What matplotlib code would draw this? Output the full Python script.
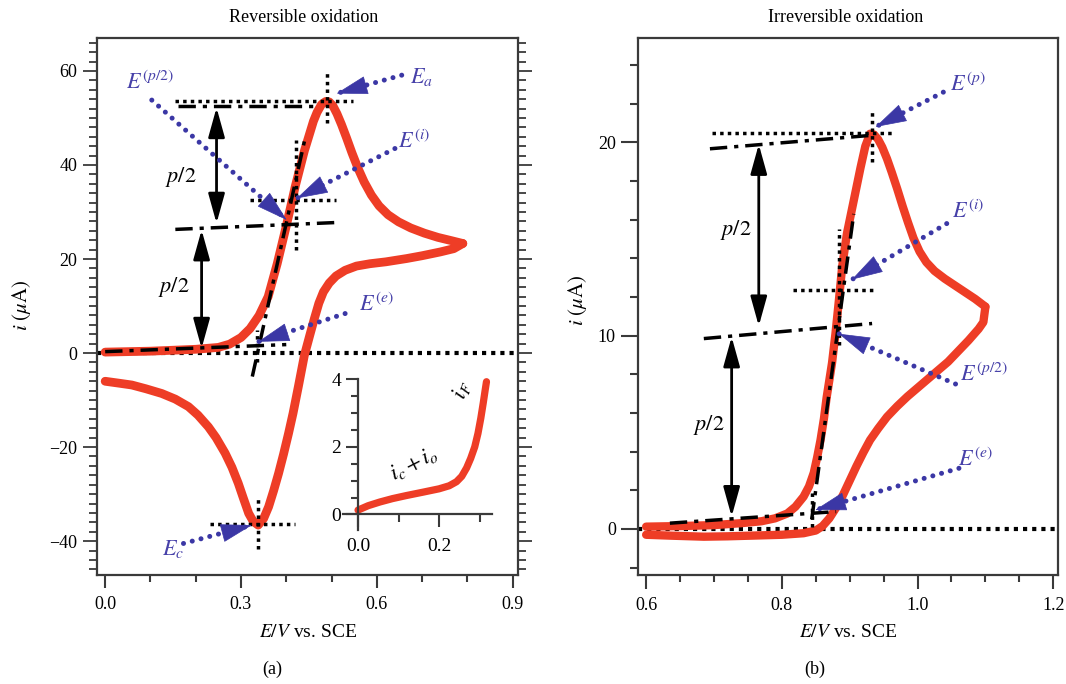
import numpy as np
import matplotlib
matplotlib.use("Agg")
import matplotlib.pyplot as plt
from matplotlib.ticker import MultipleLocator, FixedLocator

plt.rcParams['font.family'] = ['Liberation Serif', 'DejaVu Serif']
plt.rcParams['mathtext.fontset'] = 'stix'

RED = '#ee3d26'
BLUE = '#3b37a5'
LABEL_BLUE = '#4741a9'
FRAME = '#3a3a3a'

# ---------------- (a) reversible oxidation: cyclic voltammogram ----------------
rev_fwd_E = [0.00, 0.05, 0.10, 0.15, 0.20, 0.25, 0.275, 0.30, 0.32, 0.34, 0.36, 0.38,
             0.40, 0.42, 0.44, 0.46, 0.468, 0.478, 0.487, 0.495, 0.503, 0.512, 0.522,
             0.533, 0.545, 0.558, 0.572, 0.588, 0.605, 0.625, 0.648, 0.675, 0.705,
             0.735, 0.765, 0.79]
rev_fwd_i = [0.2, 0.3, 0.4, 0.6, 0.8, 1.2, 1.9, 3.3, 5.2, 8.0, 12.0, 19.0,
             27.0, 35.5, 43.0, 49.3, 51.2, 52.9, 53.5, 53.4, 52.6, 50.9, 48.6,
             45.8, 42.6, 39.4, 36.4, 33.6, 31.3, 29.4, 27.9, 26.6, 25.5,
             24.6, 23.9, 23.3]
rev_bwd_E = [0.79, 0.77, 0.74, 0.70, 0.666, 0.62, 0.585, 0.555, 0.53, 0.51, 0.495,
             0.482, 0.472, 0.462, 0.452, 0.44, 0.427, 0.415, 0.405, 0.394, 0.383,
             0.372, 0.361, 0.35, 0.338, 0.327, 0.317, 0.305, 0.294, 0.28, 0.265,
             0.245, 0.228, 0.205, 0.184, 0.155, 0.125, 0.09, 0.059, 0.03, 0.0]
rev_bwd_i = [23.3, 22.2, 21.5, 20.7, 20.1, 19.4, 19.0, 18.5, 17.6, 16.4, 14.9,
             13.0, 10.6, 7.3, 3.8, -0.5, -7.0, -12.8, -17.1, -21.5, -25.6,
             -29.3, -32.7, -35.2, -36.6, -35.8, -34.1, -30.8, -27.7, -24.3, -21.3,
             -18.0, -15.7, -13.2, -11.4, -9.8, -8.6, -7.6, -6.8, -6.4, -6.0]

# inset: charging + background current rising into the faradaic current
inset_E = [0.0, 0.025, 0.054, 0.085, 0.119, 0.16, 0.20, 0.225, 0.243, 0.256,
           0.268, 0.278, 0.288, 0.296, 0.303, 0.309, 0.314, 0.317]
inset_i = [0.13, 0.26, 0.37, 0.47, 0.56, 0.66, 0.76, 0.85, 0.97, 1.13,
           1.38, 1.66, 2.0, 2.4, 2.85, 3.3, 3.7, 3.93]

# ---------------- (b) irreversible oxidation ----------------
irr_fwd_E = [0.60, 0.65, 0.70, 0.74, 0.77, 0.79, 0.808, 0.82, 0.832, 0.84, 0.847,
             0.852, 0.857, 0.862, 0.866, 0.870, 0.874, 0.879, 0.884, 0.889, 0.896,
             0.906, 0.916, 0.923, 0.930, 0.936, 0.942, 0.948, 0.955, 0.962, 0.970,
             0.978, 0.986, 0.994, 1.003, 1.013, 1.025, 1.040, 1.055, 1.070, 1.085,
             1.10]
irr_fwd_i = [0.12, 0.15, 0.2, 0.3, 0.4, 0.55, 0.8, 1.15, 1.67, 2.2, 2.9,
             3.7, 4.6, 5.7, 6.8, 7.7, 8.6, 10.1, 11.8, 13.6, 15.3,
             17.0, 18.7, 19.8, 20.45, 20.4, 20.15, 19.75, 19.15, 18.45, 17.6,
             16.7, 15.85, 15.05, 14.35, 13.8, 13.35, 12.95, 12.6, 12.25, 11.9,
             11.5]
irr_bwd_E = [1.10, 1.097, 1.090, 1.075, 1.060, 1.045, 1.030, 1.015, 1.000, 0.985,
             0.970, 0.955, 0.942, 0.930, 0.920, 0.910, 0.900, 0.890, 0.880, 0.870,
             0.860, 0.850, 0.832, 0.80, 0.76, 0.72, 0.685, 0.64, 0.60]
irr_bwd_i = [11.5, 10.7, 10.35, 9.75, 9.2, 8.65, 8.2, 7.75, 7.3, 6.85,
             6.35, 5.8, 5.2, 4.6, 3.95, 3.25, 2.5, 1.75, 1.1, 0.55,
             0.15, -0.08, -0.22, -0.3, -0.34, -0.38, -0.4, -0.35, -0.3]

# construction lines (start, end) per panel
rev_dotted = [((-0.018, 0.0), (0.912, 0.0)),
              ((0.155, 53.6), (0.548, 53.6)), ((0.489, 48.9), (0.489, 59.6)),
              ((0.319, 32.6), (0.510, 32.6)), ((0.422, 21.9), (0.422, 45.3)),
              ((0.335, -2.0), (0.335, 4.9)),
              ((0.232, -36.3), (0.419, -36.3)), ((0.338, -41.6), (0.338, -30.9))]
rev_dashdot = [((0.16, 52.6), (0.47, 52.6)), ((0.155, 26.3), (0.52, 27.8)),
               ((0.0, 0.3), (0.40, 1.8)), ((0.325, -5.0), (0.44, 45.0))]
rev_half_arrows = [(0.246, 27.6, 52.2), (0.213, 1.0, 26.2)]
rev_half_labels = [(0.166, 37.5), (0.151, 14.1)]
rev_pointers = [(r'$E^{(p/2)}$', (0.098, 57.4), (0.103, 53.8), (0.401, 28.3)),
                (r'$E_a$', (0.699, 58.8), (0.655, 59.1), (0.511, 55.2)),
                (r'$E^{(i)}$', (0.682, 45.0), (0.640, 43.5), (0.423, 32.9)),
                (r'$E^{(e)}$', (0.598, 10.2), (0.530, 8.4), (0.338, 2.4)),
                (r'$E_c$', (0.151, -41.6), (0.173, -40.5), (0.324, -36.6))]

irr_dotted = [((0.588, 0.0), (1.207, 0.0)),
              ((0.697, 20.5), (0.962, 20.5)), ((0.933, 19.0), (0.933, 21.6)),
              ((0.817, 12.35), (0.94, 12.35)), ((0.884, 9.5), (0.884, 15.5)),
              ((0.844, 0.1), (0.844, 2.0))]
irr_dashdot = [((0.694, 19.67), (0.93, 20.36)), ((0.685, 9.85), (0.933, 10.63)),
               ((0.635, 0.3), (0.88, 0.9)), ((0.844, 0.5), (0.906, 16.3))]
irr_half_arrows = [(0.766, 10.5, 19.9), (0.726, 0.64, 9.94)]
irr_half_labels = [(0.732, 15.45), (0.692, 5.37)]
irr_pointers = [(r'$E^{(p)}$', (1.074, 23.0), (1.038, 22.6), (0.938, 20.8)),
                (r'$E^{(i)}$', (1.075, 16.4), (1.043, 15.8), (0.903, 12.9)),
                (r'$E^{(p/2)}$', (1.097, 7.96), (1.056, 7.5), (0.884, 10.1)),
                (r'$E^{(e)}$', (1.085, 3.57), (1.061, 3.14), (0.849, 0.98))]

fig = plt.figure(figsize=(10.66, 6.84), dpi=100)
fig.patch.set_facecolor('white')

ax_a = fig.add_axes([0.091, 0.1594, 0.395, 0.785])
ax_b = fig.add_axes([0.5985, 0.1594, 0.394, 0.785])
ax_a.set_xlim(-0.018, 0.912)
ax_a.set_ylim(-47.2, 67.0)
ax_b.set_xlim(0.588, 1.207)
ax_b.set_ylim(-2.38, 25.4)

for ax in (ax_a, ax_b):
    for s in ax.spines.values():
        s.set_linewidth(1.6)
        s.set_color(FRAME)

# ticks of panel (a)
ax_a.xaxis.set_major_locator(FixedLocator([0.0, 0.3, 0.6, 0.9]))
ax_a.set_xticklabels(['0.0', '0.3', '0.6', '0.9'])
ax_a.xaxis.set_minor_locator(MultipleLocator(0.1))
ax_a.yaxis.set_major_locator(FixedLocator([-40, -20, 0, 20, 40, 60]))
ax_a.yaxis.set_minor_locator(MultipleLocator(2))
ax_a.tick_params(axis='x', which='major', direction='out', length=9, width=1.5,
                 color=FRAME, labelsize=13, pad=6)
ax_a.tick_params(axis='x', which='minor', direction='out', length=5, width=1.5, color=FRAME)
ax_a.tick_params(axis='y', which='both', left=True, right=True, direction='out',
                 width=1.3, color=FRAME)
ax_a.tick_params(axis='y', which='major', length=10, labelsize=13, pad=4)
ax_a.tick_params(axis='y', which='minor', length=6)

# ticks of panel (b)
ax_b.xaxis.set_major_locator(FixedLocator([0.6, 0.8, 1.0, 1.2]))
ax_b.set_xticklabels(['0.6', '0.8', '1.0', '1.2'])
ax_b.xaxis.set_minor_locator(MultipleLocator(0.05))
ax_b.yaxis.set_major_locator(FixedLocator([0, 10, 20]))
ax_b.yaxis.set_minor_locator(FixedLocator([-2, 2, 4, 6, 8, 12, 14, 16, 18, 22, 24]))
ax_b.tick_params(axis='x', which='major', direction='out', length=10, width=1.5,
                 color=FRAME, labelsize=13, pad=6)
ax_b.tick_params(axis='x', which='minor', direction='out', length=5, width=1.5, color=FRAME)
ax_b.tick_params(axis='y', which='major', direction='out', length=12, width=1.5,
                 color=FRAME, labelsize=13, pad=4)
ax_b.tick_params(axis='y', which='minor', direction='out', length=6, width=1.5, color=FRAME)

DOT = (0, (1, 1.2))
DASHDOT = (0, (5, 2, 1.2, 2))


def construction(ax, dotted, dashdot, zero_lw=3.0):
    for k, (p, q) in enumerate(dotted):
        ax.plot([p[0], q[0]], [p[1], q[1]], color='black', linestyle=DOT,
                lw=zero_lw if k == 0 else 2.5, zorder=2 if k == 0 else 4,
                clip_on=False)
    for p, q in dashdot:
        ax.plot([p[0], q[0]], [p[1], q[1]], color='black', linestyle=DASHDOT,
                lw=2.5, zorder=4)


def half_arrows(ax, arrows, labels):
    for x, y0, y1 in arrows:
        ax.annotate('', xy=(x, y1), xytext=(x, y0),
                    arrowprops=dict(arrowstyle='<|-|>,head_length=1.8,head_width=0.5',
                                    mutation_scale=10, lw=2.0, color='black',
                                    shrinkA=0, shrinkB=0), zorder=5)
    for x, y in labels:
        ax.text(x, y, r'$p/2$', fontsize=16, ha='center', va='center', color='black')


def pointers(ax, items):
    for text, txy, start, tip in items:
        ax.plot([start[0], tip[0]], [start[1], tip[1]], color=BLUE, lw=3.6,
                linestyle=(0, (0.01, 1.8)), dash_capstyle='round', zorder=6)
        p0 = ax.transData.transform(start)
        p1 = ax.transData.transform(tip)
        d = (p1 - p0) / np.hypot(*(p1 - p0))
        back = -d * 21.0  # head length in points
        ax.annotate('', xy=tip, xytext=(back[0], back[1]), textcoords='offset points',
                    arrowprops=dict(arrowstyle='-|>,head_length=2.1,head_width=0.62',
                                    mutation_scale=10, lw=0.5, color=BLUE,
                                    shrinkA=0, shrinkB=0), zorder=7)
        ax.text(txy[0], txy[1], text, fontsize=16, color=LABEL_BLUE,
                ha='center', va='center', zorder=7)


# ---- panel (a)
construction(ax_a, rev_dotted, rev_dashdot)
ax_a.plot(rev_fwd_E, rev_fwd_i, color=RED, lw=6.3, solid_capstyle='round',
          solid_joinstyle='round', zorder=3)
ax_a.plot(rev_bwd_E, rev_bwd_i, color=RED, lw=6.3, solid_capstyle='round',
          solid_joinstyle='round', zorder=3)
half_arrows(ax_a, rev_half_arrows, rev_half_labels)
pointers(ax_a, rev_pointers)

# inset
ax_in = fig.add_axes([0.3218, 0.2251, 0.1395, 0.2203])
ax_in.set_facecolor('none')
ax_in.set_xlim(-0.037, 0.33)
ax_in.set_ylim(-0.46, 4.0)
ax_in.spines['top'].set_visible(False)
ax_in.spines['right'].set_visible(False)
ax_in.spines['left'].set_position(('data', 0))
ax_in.spines['bottom'].set_position(('data', 0))
for s in ('left', 'bottom'):
    ax_in.spines[s].set_linewidth(1.6)
    ax_in.spines[s].set_color(FRAME)
ax_in.xaxis.set_major_locator(FixedLocator([0.0, 0.2]))
ax_in.set_xticklabels(['0.0', '0.2'])
ax_in.xaxis.set_minor_locator(FixedLocator([0.1, 0.3]))
ax_in.yaxis.set_major_locator(FixedLocator([0, 2, 4]))
ax_in.set_yticklabels(['0', '2', '4'])
ax_in.yaxis.set_minor_locator(MultipleLocator(0.5))
ax_in.tick_params(axis='both', which='both', direction='out', width=1.5, color=FRAME)
ax_in.tick_params(axis='x', which='major', length=9, labelsize=14, pad=8)
ax_in.tick_params(axis='x', which='minor', length=6)
ax_in.tick_params(axis='y', which='major', length=9, labelsize=14, pad=3)
ax_in.tick_params(axis='y', which='minor', length=5)
ax_in.plot(inset_E, inset_i, color=RED, lw=5.2, solid_capstyle='round',
           solid_joinstyle='round', clip_on=False)
ax_in.text(0.257, 3.68, r'$i_F$', fontsize=16, rotation=70, ha='center', va='center')
ax_in.text(0.1375, 1.51, r'$i_c + i_o$', fontsize=16, rotation=27, ha='center', va='center')

# ---- panel (b)
construction(ax_b, irr_dotted, irr_dashdot)
ax_b.plot(irr_fwd_E, irr_fwd_i, color=RED, lw=6.0, solid_capstyle='round',
          solid_joinstyle='round', zorder=3)
ax_b.plot(irr_bwd_E, irr_bwd_i, color=RED, lw=6.0, solid_capstyle='round',
          solid_joinstyle='round', zorder=3)
half_arrows(ax_b, irr_half_arrows, irr_half_labels)
pointers(ax_b, irr_pointers)

# titles and axis labels
fig.text(0.285, 0.975, 'Reversible oxidation', fontsize=13, ha='center', va='center')
fig.text(0.7936, 0.975, 'Irreversible oxidation', fontsize=13, ha='center', va='center')
for xc in (0.2885, 0.7955):
    fig.text(xc, 0.076, r'$E/V$ vs. SCE', fontsize=14, ha='center', va='center')
fig.text(0.255, 0.022, '(a)', fontsize=13, ha='center', va='center')
fig.text(0.7645, 0.022, '(b)', fontsize=13, ha='center', va='center')
fig.text(0.0206, 0.554, r'$i\ (\mu\mathrm{A})$', fontsize=15, rotation=90,
         ha='center', va='center')
fig.text(0.542, 0.561, r'$i\ (\mu\mathrm{A})$', fontsize=15, rotation=90,
         ha='center', va='center')

fig.savefig('out.png', dpi=100, facecolor='white')
